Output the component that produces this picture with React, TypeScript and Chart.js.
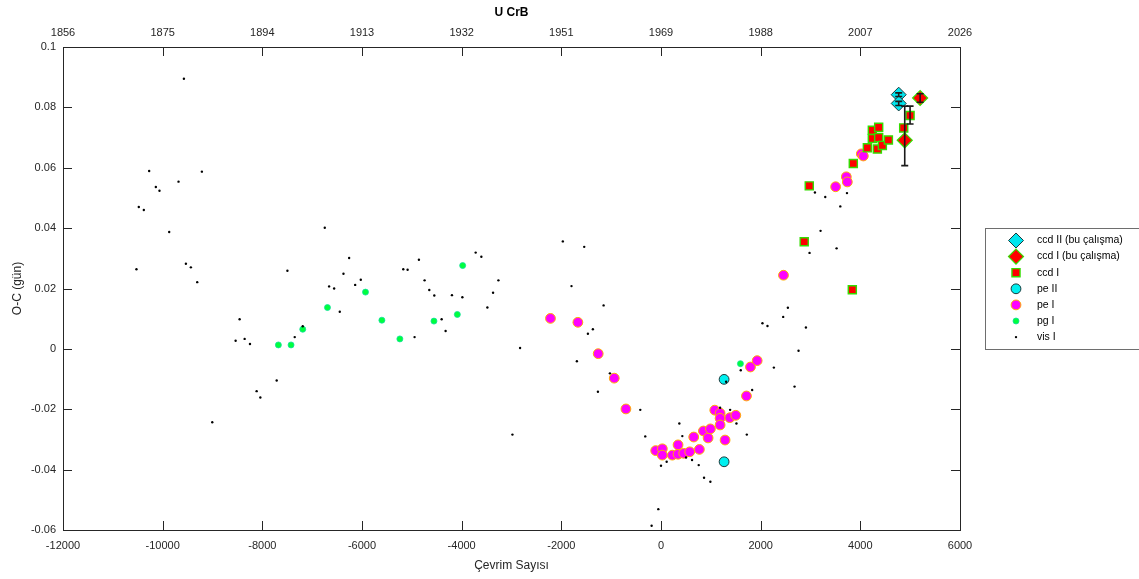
import React, { useEffect, useRef } from 'react';
import { Chart, registerables } from 'chart.js';

Chart.register(...registerables);

const yearLabels = ['1856', '1875', '1894', '1913', '1932', '1951', '1969', '1988', '2007', '2026'];

// vis I
const visX = [
  -9574, -10271, -10137, -10064, -9682, -9213, -10479, -10378, -9869, -10526, -9534, -9434, -9307,
  -7497, -6747, -6258, -6372, -6660, -6559, -6137, -6024, -5172, -5085, -4858, -4744, -4650, -4549,
  -4195, -3986, -3719, -3605, -3263, -3370,
  -8456, -8536, -8355, -8248, -8114, -8040, -9005, -7712, -7350, -7189, -6446, -4945, -4402, -4322, -3484,
  -1970, -1541, -1796, -1152, -1467, -1367, -2828, -1688, -1025, -1266, -416, -2981, -316, 368, 428,
  114, 0, 623, 757, 864, 991, 503, -54, -188, 1186, 1387, 1514, 1722, 1829, 1601, 2265, 2680, 2760,
  2036, 2137, 2452, 2546, 1307,
  3089, 3296, 3732, 3598, 3202, 2981, 3524, 2908,
];
const visY = [
  0.0895, 0.0589, 0.0536, 0.0524, 0.0554, 0.0587, 0.0470, 0.0460, 0.0387, 0.0264, 0.0282, 0.0270, 0.0221,
  0.0259, 0.0401, 0.0301, 0.0249, 0.0207, 0.0200, 0.0212, 0.0229, 0.0264, 0.0262, 0.0295, 0.0227, 0.0195, 0.0177,
  0.0178, 0.0171, 0.0319, 0.0305, 0.0227, 0.0186,
  0.0098, 0.0027, 0.0033, 0.0016, -0.0140, -0.0161, -0.0243, -0.0105, 0.0039, 0.0075, 0.0123, 0.0039, 0.0098, 0.0059, 0.0137,
  0.0356, 0.0338, 0.0208, 0.0144, 0.0050, 0.0065, 0.0003, -0.0041, -0.0081, -0.0142, -0.0202, -0.0284, -0.0290, -0.0247, -0.0289,
  -0.0374, -0.0387, -0.0368, -0.0385, -0.0427, -0.0440, -0.0360, -0.0531, -0.0586, -0.0195, -0.0202, -0.0247, -0.0284, -0.0136, -0.0071, -0.0062, -0.0125, -0.0006,
  0.0085, 0.0076, 0.0106, 0.0136, -0.0109,
  0.0518, 0.0503, 0.0516, 0.0472, 0.0391, 0.0318, 0.0333, 0.0071,
];

// pg I
const pgX = [-5930, -3980, -7678, -7424, -7189, -6693, -5601, -5240, -4556, -4087, 1594];
const pgY = [0.0188, 0.0276, 0.0013, 0.0013, 0.0065, 0.0137, 0.0095, 0.0033, 0.0092, 0.0114, -0.0049];

// pe I
const peIX = [
  -2218, -1668, -1260, -938, -704, -107, 27, 27, 228, 342, 342, 456, 576, 657, 770, 851, 945, 991,
  1079, 1186, 1186, 1186, 1286, 1381, 1501, 1715, 1795, 1930, 2458, 3504, 3719, 3739, 4020, 4060,
];
const peIY = [
  0.0101, 0.0088, -0.0016, -0.0097, -0.0199, -0.0337, -0.0331, -0.0352, -0.0352, -0.0349, -0.0318, -0.0346, -0.0341, -0.0292, -0.0333, -0.0272, -0.0295, -0.0265,
  -0.0203, -0.0213, -0.0230, -0.0252, -0.0302, -0.0228, -0.0220, -0.0156, -0.0060, -0.0039, 0.0244, 0.0537, 0.0570, 0.0553, 0.0646, 0.0639,
];

// pe II
const peIIX = [1266, 1266];
const peIIY = [-0.0101, -0.0374];

// ccd I
const ccdIX = [2975, 2874, 3839, 3859, 4141, 4342, 4241, 4368, 4241, 4368, 4442, 4563, 4870, 4998];
const ccdIY = [0.0540, 0.0355, 0.0196, 0.0614, 0.0666, 0.0662, 0.0724, 0.0734, 0.0697, 0.0700, 0.0674, 0.0692, 0.0732, 0.0773];
const ccdIErrLow = [null, null, null, null, null, null, null, null, null, null, null, null, null, 0.0745];
const ccdIErrHigh = [null, null, null, null, null, null, null, null, null, null, null, null, null, 0.0804];

// ccd I (bu çalışma)
const ccdIBuX = [5200, 4891];
const ccdIBuY = [0.0831, 0.0691];
const ccdIBuErrLow = [0.0817, 0.0607];
const ccdIBuErrHigh = [0.0845, 0.0804];

// ccd II (bu çalışma)
const ccdIIBuX = [4770, 4770];
const ccdIIBuY = [0.0842, 0.0813];
const ccdIIBuErrLow = [0.0836, 0.0806];
const ccdIIBuErrHigh = [0.0848, 0.0820];

const FONT = "'Liberation Sans', Arial, Helvetica, sans-serif";
const AXIS_COLOR = '#262626';

function pts(xs: number[], ys: number[]) {
  return xs.map((x, i) => ({ x, y: ys[i] }));
}

function drawMarker(ctx: CanvasRenderingContext2D, style: string, x: number, y: number, r: number, fill: string, stroke: string, bw: number) {
  ctx.beginPath();
  if (style === 'rect') {
    const s = r * Math.SQRT1_2;
    ctx.rect(x - s, y - s, 2 * s, 2 * s);
  } else if (style === 'rectRot') {
    ctx.moveTo(x, y - r);
    ctx.lineTo(x + r, y);
    ctx.lineTo(x, y + r);
    ctx.lineTo(x - r, y);
    ctx.closePath();
  } else {
    ctx.arc(x, y, r, 0, Math.PI * 2);
  }
  ctx.fillStyle = fill;
  ctx.fill();
  if (bw > 0) {
    ctx.lineWidth = bw;
    ctx.strokeStyle = stroke;
    ctx.stroke();
  }
}

const framePlugin = {
  id: 'matlabFrame',
  beforeDatasetsDraw(chart: any) {
    const { ctx, chartArea, scales } = chart;
    const { left, right, top, bottom } = chartArea;
    const tl = 9;
    ctx.save();
    ctx.strokeStyle = AXIS_COLOR;
    ctx.lineWidth = 1;
    ctx.beginPath();
    scales.x.ticks.forEach((t: any) => {
      const px = Math.round(scales.x.getPixelForValue(t.value)) + 0.5;
      ctx.moveTo(px, bottom);
      ctx.lineTo(px, bottom - tl);
      ctx.moveTo(px, top);
      ctx.lineTo(px, top + tl);
    });
    scales.y.ticks.forEach((t: any) => {
      const py = Math.round(scales.y.getPixelForValue(t.value)) + 0.5;
      ctx.moveTo(left, py);
      ctx.lineTo(left + tl, py);
      ctx.moveTo(right, py);
      ctx.lineTo(right - tl, py);
    });
    ctx.stroke();
    ctx.strokeRect(Math.round(left) + 0.5, Math.round(top) + 0.5, Math.round(right - left), Math.round(bottom - top));
    ctx.restore();
  },
};

const errorBarPlugin = {
  id: 'errorBars',
  afterDatasetsDraw(chart: any) {
    const { ctx, scales } = chart;
    ctx.save();
    ctx.strokeStyle = '#1a1a1a';
    ctx.lineWidth = 1.6;
    chart.data.datasets.forEach((ds: any) => {
      if (!ds.errLow) return;
      ds.data.forEach((p: any, j: number) => {
        const lo = ds.errLow[j];
        const hi = ds.errHigh[j];
        if (lo == null || hi == null) return;
        const px = scales.x.getPixelForValue(p.x);
        const yl = scales.y.getPixelForValue(lo);
        const yh = scales.y.getPixelForValue(hi);
        const c = 3.5;
        ctx.beginPath();
        ctx.moveTo(px, yl);
        ctx.lineTo(px, yh);
        ctx.moveTo(px - c, yl);
        ctx.lineTo(px + c, yl);
        ctx.moveTo(px - c, yh);
        ctx.lineTo(px + c, yh);
        ctx.stroke();
      });
    });
    ctx.restore();
  },
};

const legendPlugin = {
  id: 'boxLegend',
  afterDraw(chart: any) {
    const { ctx, chartArea } = chart;
    const order = chart.options.plugins.boxLegend.order as number[];
    const bx = chartArea.right + 25;
    const bh = 121;
    const by = Math.round((chartArea.top + chartArea.bottom) / 2 - bh / 2) + 0.5;
    const bw = 175;
    ctx.save();
    ctx.fillStyle = '#ffffff';
    ctx.fillRect(bx, by, bw, bh);
    ctx.strokeStyle = '#6e6e6e';
    ctx.lineWidth = 1;
    ctx.strokeRect(Math.round(bx) + 0.5, by, bw, bh);
    ctx.font = `10.5px ${FONT}`;
    ctx.textBaseline = 'middle';
    ctx.textAlign = 'left';
    order.forEach((di, k) => {
      const ds = chart.data.datasets[di];
      const cy = by + 12 + k * 16.1;
      const mx = bx + 31;
      drawMarker(ctx, ds.pointStyle, mx, cy, ds.pointRadius, ds.backgroundColor, ds.borderColor, ds.borderWidth);
      ctx.fillStyle = '#000000';
      ctx.fillText(ds.label, bx + 52, cy);
    });
    ctx.restore();
  },
};

export default function App() {
  const ref = useRef<HTMLCanvasElement>(null);

  useEffect(() => {
    if (!ref.current) return;
    const datasets: any[] = [
      {
        label: 'ccd II (bu çalışma)', data: pts(ccdIIBuX, ccdIIBuY), pointStyle: 'rectRot', pointRadius: 7.5,
        backgroundColor: '#00e5ee', borderColor: '#1c3a3c', borderWidth: 1,
        errLow: ccdIIBuErrLow, errHigh: ccdIIBuErrHigh,
      },
      {
        label: 'ccd I (bu çalışma)', data: pts(ccdIBuX, ccdIBuY), pointStyle: 'rectRot', pointRadius: 7.5,
        backgroundColor: '#ff0000', borderColor: '#33e000', borderWidth: 1.2,
        errLow: ccdIBuErrLow, errHigh: ccdIBuErrHigh,
      },
      {
        label: 'ccd I', data: pts(ccdIX, ccdIY), pointStyle: 'rect', pointRadius: 5.7,
        backgroundColor: '#ff0000', borderColor: '#33dd00', borderWidth: 1.4,
        errLow: ccdIErrLow, errHigh: ccdIErrHigh,
      },
      {
        label: 'vis I', data: pts(visX, visY), pointStyle: 'circle', pointRadius: 1.2,
        backgroundColor: '#000000', borderColor: '#000000', borderWidth: 0,
      },
      {
        label: 'pe II', data: pts(peIIX, peIIY), pointStyle: 'circle', pointRadius: 4.9,
        backgroundColor: '#00f0f0', borderColor: '#1c3a3c', borderWidth: 1,
      },
      {
        label: 'pe I', data: pts(peIX, peIY), pointStyle: 'circle', pointRadius: 4.9,
        backgroundColor: '#ff00ff', borderColor: '#ffb000', borderWidth: 1,
      },
      {
        label: 'pg I', data: pts(pgX, pgY), pointStyle: 'circle', pointRadius: 3,
        backgroundColor: '#00ff3c', borderColor: '#10e0a0', borderWidth: 0.8,
      },
    ];
    datasets.forEach((d) => {
      d.pointHoverRadius = d.pointRadius;
      d.showLine = false;
    });

    const tickFont = { family: FONT, size: 11 };
    const chart = new Chart(ref.current, {
      type: 'scatter',
      data: { datasets },
      options: {
        animation: false,
        responsive: false,
        events: [],
        layout: { padding: { left: 0, right: 179, top: 0, bottom: 0 } },
        plugins: {
          legend: { display: false },
          tooltip: { enabled: false },
          title: { display: false },
          boxLegend: { order: [0, 1, 2, 4, 5, 6, 3] },
        } as any,
        scales: {
          x: {
            type: 'linear',
            position: 'bottom',
            min: -12000,
            max: 6000,
            grid: { display: false, drawTicks: false },
            border: { display: false },
            ticks: {
              stepSize: 2000,
              padding: 9,
              maxRotation: 0,
              autoSkip: false,
              color: AXIS_COLOR,
              font: tickFont,
              callback: (v: any) => String(v),
            },
            title: {
              display: true,
              text: 'Çevrim Sayısı',
              color: AXIS_COLOR,
              font: { family: FONT, size: 12 },
              padding: { top: 0, bottom: 6 },
            },
            afterFit: (s: any) => { s.height = 49; },
          },
          x2: {
            type: 'linear',
            axis: 'x',
            position: 'top',
            min: -12000,
            max: 6000,
            grid: { display: false, drawTicks: false },
            border: { display: false },
            ticks: {
              stepSize: 2000,
              padding: 7,
              maxRotation: 0,
              autoSkip: false,
              color: AXIS_COLOR,
              font: tickFont,
              callback: (_v: any, i: number) => yearLabels[i],
            },
            title: {
              display: true,
              text: 'U CrB',
              color: '#000000',
              font: { family: FONT, size: 12, weight: 'bold' },
              padding: { top: 5, bottom: 0 },
            },
            afterFit: (s: any) => { s.height = 47; },
          },
          y: {
            type: 'linear',
            min: -0.06,
            max: 0.1,
            grid: { display: false, drawTicks: false },
            border: { display: false },
            ticks: {
              stepSize: 0.02,
              padding: 7,
              color: AXIS_COLOR,
              font: tickFont,
              callback: (v: any) => String(Number(Number(v).toFixed(2))),
            },
            title: {
              display: true,
              text: 'O-C (gün)',
              color: AXIS_COLOR,
              font: { family: FONT, size: 12 },
              padding: { top: 10, bottom: 0 },
            },
            afterFit: (s: any) => { s.width = 63; },
          },
        } as any,
      },
      plugins: [framePlugin, errorBarPlugin, legendPlugin],
    });
    return () => chart.destroy();
  }, []);

  return (
    <div style={{ position: 'absolute', left: 0, top: 0, width: 1139, height: 579, overflow: 'hidden', background: '#ffffff' }}>
      <canvas ref={ref} width={1139} height={579} style={{ display: 'block' }} />
    </div>
  );
}
